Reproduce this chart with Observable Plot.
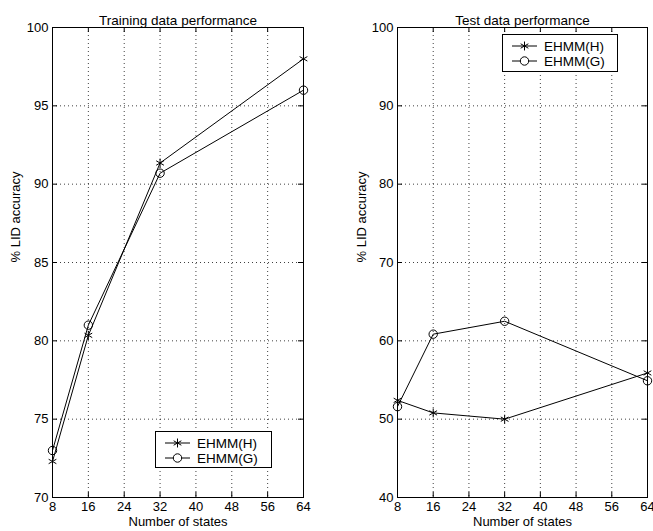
<!DOCTYPE html>
<html><head><meta charset="utf-8">
<script src="https://cdn.jsdelivr.net/npm/d3@7"></script>
<script src="https://cdn.jsdelivr.net/npm/@observablehq/plot@0.6"></script>
<style>
body{margin:0;background:#fff}
#wrap{position:relative;width:653px;height:531px;overflow:hidden;font-family:"Liberation Sans",Arial,Helvetica,sans-serif}
.panel{position:absolute;top:0}
.legend{position:absolute;background:#fff;border:1.3px solid #000;box-sizing:border-box}
.legend .row{position:absolute;left:0;height:14px;display:flex;align-items:center;font-size:13.5px;color:#000}
.legend .row span{margin-left:6px}
</style>
</head><body>
<div id="wrap"></div>
<script>
const states = [8, 16, 32, 64];
const xTicks = [8, 16, 24, 32, 40, 48, 56, 64];
const series = ["EHMM(H)", "EHMM(G)"];
const symbols = ["asterisk", "circle"];
const trainH = [72.3, 80.35, 91.35, 98.0];
const trainG = [73.0, 81.0, 90.7, 96.0];
const testH = [52.4, 50.8, 50.0, 55.9];
const testG = [51.6, 60.85, 62.5, 54.9];
const trainYTicks = [70, 75, 80, 85, 90, 95, 100];
const testYTicks = [40, 50, 60, 70, 80, 90, 100];
const titles = ["Training data performance", "Test data performance"];
const xLabel = "Number of states";
const yLabel = "% LID accuracy";

function rows(H, G) {
  const out = [];
  states.forEach((s, i) => out.push({states: s, value: H[i], series: series[0]}));
  states.forEach((s, i) => out.push({states: s, value: G[i], series: series[1]}));
  return out;
}

function panel({title, H, G, yTicks, width, marginLeft, marginRight, labelX}) {
  const height = 531, marginTop = 27, marginBottom = 34;
  const iw = width - marginLeft - marginRight, ih = height - marginTop - marginBottom;
  const data = rows(H, G);
  const grid = {stroke: "#000", strokeOpacity: 0.75, strokeDasharray: "1,3"};
  return Plot.plot({
    width, height, marginLeft, marginRight, marginTop, marginBottom,
    style: {fontFamily: "'Liberation Sans', Arial, Helvetica, sans-serif", fontSize: "13px", background: "white", overflow: "visible", color: "#000"},
    x: {domain: [xTicks[0], xTicks[xTicks.length - 1]]},
    y: {domain: [yTicks[0], yTicks[yTicks.length - 1]]},
    symbol: {domain: series, range: symbols},
    marks: [
      Plot.gridX(xTicks.slice(1, -1), grid),
      Plot.gridY(yTicks.slice(1, -1), grid),
      Plot.frame({stroke: "#000", strokeWidth: 1}),
      Plot.tickX(xTicks, {x: d => d, insetTop: ih - 5, stroke: "#000"}),
      Plot.tickX(xTicks, {x: d => d, insetBottom: ih - 5, stroke: "#000"}),
      Plot.tickY(yTicks, {y: d => d, insetRight: iw - 5, stroke: "#000"}),
      Plot.tickY(yTicks, {y: d => d, insetLeft: iw - 5, stroke: "#000"}),
      Plot.axisX(xTicks, {tickSize: 0, tickPadding: 4, label: null, fontSize: 13}),
      Plot.axisY(yTicks, {tickSize: 0, tickPadding: 4, label: null, fontSize: 13}),
      Plot.line(data, {x: "states", y: "value", z: "series", stroke: "#000", strokeWidth: 1}),
      Plot.dot(data, {x: "states", y: "value", symbol: "series", r: 4.2, stroke: "#000", fill: "none", strokeWidth: 1}),
      Plot.text([title], {text: d => d, frameAnchor: "top", dy: -12, fontSize: 13.5}),
      Plot.text([xLabel], {text: d => d, frameAnchor: "bottom", dy: 28, fontSize: 13}),
      Plot.text([yLabel], {text: d => d, frameAnchor: "left", rotate: -90, dx: -(marginLeft - labelX), fontSize: 13})
    ]
  });
}

function legend(left, top, w, h) {
  const div = document.createElement("div");
  div.className = "legend";
  Object.assign(div.style, {left: left + "px", top: top + "px", width: w + "px", height: h + "px"});
  series.forEach((name, i) => {
    const row = document.createElement("div");
    row.className = "row";
    row.style.top = (i === 0 ? 4 : 19) + "px";
    row.style.left = "8px";
    const svg = d3.create("svg").attr("width", 27).attr("height", 14);
    svg.append("line").attr("x1", 1).attr("x2", 26).attr("y1", 7).attr("y2", 7).attr("stroke", "#000");
    const sym = symbols[i] === "asterisk" ? d3.symbolAsterisk : d3.symbolCircle;
    svg.append("path").attr("d", d3.symbol(sym, Math.PI * 4.2 * 4.2)())
      .attr("transform", "translate(13.5,7)").attr("fill", symbols[i] === "circle" ? "#fff" : "none").attr("stroke", "#000");
    row.appendChild(svg.node());
    const sp = document.createElement("span");
    sp.textContent = name;
    row.appendChild(sp);
    div.appendChild(row);
  });
  return div;
}

const wrap = document.getElementById("wrap");
const p1 = panel({title: titles[0], H: trainH, G: trainG, yTicks: trainYTicks, width: 326, marginLeft: 52, marginRight: 23, labelX: 15});
p1.classList.add("panel"); p1.style.left = "0px";
const p2 = panel({title: titles[1], H: testH, G: testG, yTicks: testYTicks, width: 327, marginLeft: 71, marginRight: 6, labelX: 35});
p2.classList.add("panel"); p2.style.left = "326px";
wrap.appendChild(p1);
wrap.appendChild(p2);
wrap.appendChild(legend(155, 431, 117, 37));
wrap.appendChild(legend(502, 34, 116, 38));
</script>
</body></html>
